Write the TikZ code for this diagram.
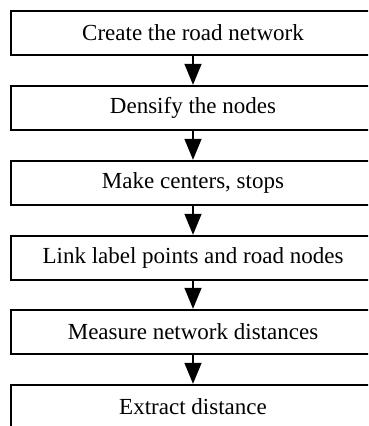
\documentclass[tikz,border=0pt]{standalone}
\usepackage{fontspec}
\setmainfont{Liberation Serif}
\usetikzlibrary{arrows.meta}
\begin{document}
\begin{tikzpicture}[x=1pt,y=-1pt,
  stepbox/.style={draw=black,line width=2.4pt,rectangle,minimum width=364pt,minimum height=44pt,inner sep=0pt,
    font=\fontsize{23}{27}\selectfont},
  flow/.style={draw=black,line width=1.5pt,-{Triangle[width=17pt,length=21pt]}}]
\useasboundingbox (0,0) rectangle (368,426);
\clip (0,0) rectangle (368,426);
\node[stepbox] (b1) at (193,33) {Create the road network};
\node[stepbox] (b2) at (193,108) {Densify the nodes};
\node[stepbox] (b3) at (193,183) {Make centers, stops};
\node[stepbox] (b4) at (193,258) {Link label points and road nodes};
\node[stepbox] (b5) at (193,332) {Measure network distances};
\node[stepbox] (b6) at (193,407) {Extract distance};
\draw[flow] (b1) -- (b2);
\draw[flow] (b2) -- (b3);
\draw[flow] (b3) -- (b4);
\draw[flow] (b4) -- (b5);
\draw[flow] (b5) -- (b6);
\end{tikzpicture}
\end{document}
